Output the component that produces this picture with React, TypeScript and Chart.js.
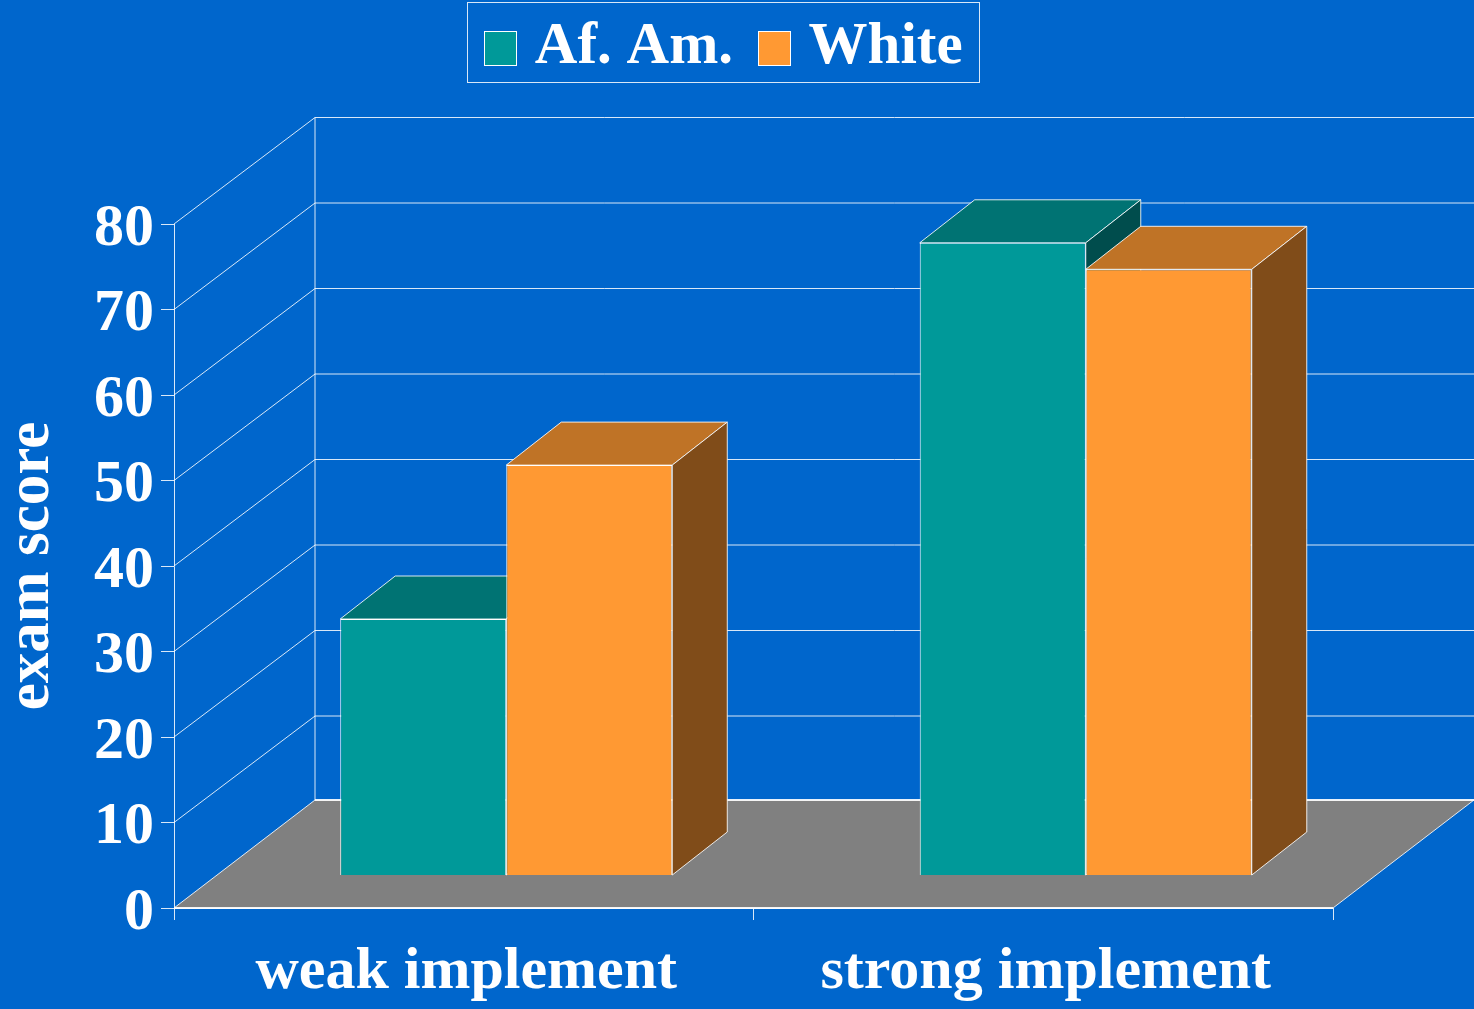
import React, { useEffect, useRef } from "react";
import { Chart, registerables } from "chart.js";

Chart.register(...registerables);

const categories = ["weak implement", "strong implement"];
const afAmValues = [30, 74];
const whiteValues = [48, 70.9];
const yTicks = [0, 10, 20, 30, 40, 50, 60, 70, 80];

const SERIF = '"Liberation Serif", serif';
const BG = "#0066cc";
const LINE = "rgba(255,255,255,0.85)";
const WALL = { dx: 141, dy: -106.5, floorDy: -108 };
const BAR_SHIFT = { dx: 42.5, dy: -32.5 };
const BAR_DEPTH = { dx: 55, dy: -43 };
const faces: Record<string, { top: string; side: string }> = {
  "Af. Am.": { top: "#007373", side: "#004d4d" },
  White: { top: "#bf7326", side: "#804c19" },
};

function poly(ctx: CanvasRenderingContext2D, pts: number[][], fill: string | null, stroke: string | null) {
  ctx.beginPath();
  pts.forEach((p, i) => (i ? ctx.lineTo(p[0], p[1]) : ctx.moveTo(p[0], p[1])));
  ctx.closePath();
  if (fill) {
    ctx.fillStyle = fill;
    ctx.fill();
  }
  if (stroke) {
    ctx.strokeStyle = stroke;
    ctx.lineWidth = 1;
    ctx.stroke();
  }
}

function seg(ctx: CanvasRenderingContext2D, x1: number, y1: number, x2: number, y2: number, w = 1) {
  ctx.beginPath();
  ctx.moveTo(x1, y1);
  ctx.lineTo(x2, y2);
  ctx.strokeStyle = LINE;
  ctx.lineWidth = w;
  ctx.stroke();
}

const scene3d = {
  id: "scene3d",
  beforeLayout(chart: any) {
    const legend = chart.legend;
    if (legend && !legend.__wrapped) {
      const fit = legend.fit;
      legend.fit = function () {
        fit.call(this);
        this.height = 224;
      };
      legend.__wrapped = true;
    }
  },
  afterLayout(chart: any) {
    const legend = chart.legend;
    legend.left = 0;
    legend.right = 1447;
    legend.top = -7;
  },
  beforeDraw(chart: any) {
    const { ctx, width, height } = chart;
    ctx.save();
    ctx.fillStyle = BG;
    ctx.fillRect(0, 0, width, height);
    ctx.restore();
  },
  beforeDatasetDraw() {
    return false;
  },
  beforeDatasetsDraw(chart: any) {
    const { ctx, chartArea: a, scales } = chart;
    const y0 = scales.y.getPixelForValue(0);
    const backX = a.left + WALL.dx;
    const floorY = y0 + WALL.floorDy;
    ctx.save();
    yTicks.forEach((v) => {
      if (v === 0) return;
      const y = scales.y.getPixelForValue(v);
      seg(ctx, a.left, y, backX, y + WALL.dy);
      seg(ctx, backX, y + WALL.dy, a.right + WALL.dx, y + WALL.dy);
    });
    seg(ctx, backX, a.top + WALL.dy, backX, floorY);
    poly(
      ctx,
      [
        [a.left, y0],
        [backX, floorY],
        [a.right + WALL.dx, floorY],
        [a.right, y0],
      ],
      "#808080",
      LINE
    );
    seg(ctx, backX, floorY, a.right + WALL.dx, floorY, 2);
    seg(ctx, a.left, y0, a.right, y0, 2);
    ctx.restore();
  },
  afterDatasetsDraw(chart: any) {
    const { ctx } = chart;
    chart.data.datasets.forEach((ds: any, i: number) => {
      const meta = chart.getDatasetMeta(i);
      const f = faces[ds.label];
      ctx.save();
      ctx.translate(BAR_SHIFT.dx, BAR_SHIFT.dy);
      meta.data.forEach((bar: any) => {
        const l = bar.x - bar.width / 2;
        const r = bar.x + bar.width / 2;
        const t = bar.y;
        const b = bar.base;
        const { dx, dy } = BAR_DEPTH;
        poly(ctx, [[l, t], [l + dx, t + dy], [r + dx, t + dy], [r, t]], f.top, LINE);
        poly(ctx, [[r, t], [r + dx, t + dy], [r + dx, b + dy], [r, b]], f.side, LINE);
      });
      meta.controller.draw();
      ctx.restore();
    });
  },
  afterDraw(chart: any) {
    const { ctx, legend } = chart;
    const boxes = legend.legendHitBoxes;
    if (!boxes || !boxes.length) return;
    ctx.save();
    const first = boxes[0];
    ctx.strokeStyle = LINE;
    ctx.lineWidth = 1;
    ctx.strokeRect(Math.round(first.left) - 16.5, 2.5, 512, 80);
    boxes.forEach((h: any, i: number) => {
      const ds = chart.data.datasets[i];
      const cy = h.top + h.height / 2 + 0.5;
      const x = Math.round(h.left) + 0.5;
      const y = Math.round(cy - 17) + 0.5;
      ctx.fillStyle = ds.backgroundColor;
      ctx.fillRect(x, y, 32, 34);
      ctx.strokeStyle = "#ffffff";
      ctx.strokeRect(x, y, 32, 34);
    });
    ctx.restore();
  },
};

export default function App() {
  const ref = useRef<HTMLCanvasElement>(null);
  useEffect(() => {
    document.body.style.margin = "0";
    document.body.style.background = BG;
    const chart = new Chart(ref.current as HTMLCanvasElement, {
      type: "bar",
      data: {
        labels: categories,
        datasets: [
          { label: "Af. Am.", data: afAmValues, backgroundColor: "#009999", borderColor: "#ffffff", borderWidth: 1 },
          { label: "White", data: whiteValues, backgroundColor: "#ff9933", borderColor: "#ffffff", borderWidth: 1 },
        ],
      },
      options: {
        responsive: false,
        animation: false,
        devicePixelRatio: 1,
        layout: { padding: { top: 0, right: 141, bottom: 0, left: 0 } },
        datasets: { bar: { categoryPercentage: 0.573, barPercentage: 1 } },
        plugins: {
          tooltip: { enabled: false },
          legend: {
            position: "top",
            labels: {
              boxWidth: 21,
              boxHeight: 33,
              padding: 25,
              color: "#ffffff",
              font: { family: SERIF, weight: "bold", size: 59, lineHeight: 1.2 },
              generateLabels(chart: any) {
                return chart.data.datasets.map((d: any, i: number) => ({
                  text: d.label,
                  fillStyle: "transparent",
                  strokeStyle: "transparent",
                  lineWidth: 0,
                  fontColor: "#ffffff",
                  hidden: false,
                  datasetIndex: i,
                }));
              },
            },
          },
        },
        scales: {
          x: {
            type: "category",
            afterFit(s: any) {
              s.height = 101;
            },
            grid: { offset: true, drawOnChartArea: false, drawTicks: true, tickLength: 12, color: LINE },
            border: { color: LINE },
            ticks: {
              color: "#ffffff",
              padding: 22,
              labelOffset: 2.5,
              maxRotation: 0,
              font: { family: SERIF, weight: "bold", size: 60, lineHeight: 1 },
            },
          },
          y: {
            type: "linear",
            min: 0,
            max: 80,
            afterFit(s: any) {
              s.width = 174;
            },
            afterBuildTicks(s: any) {
              s.ticks = yTicks.map((value) => ({ value }));
            },
            grid: { drawOnChartArea: false, drawTicks: true, tickLength: 13, color: LINE },
            border: { color: LINE },
            title: {
              display: true,
              text: "exam score",
              color: "#ffffff",
              padding: { top: 2, bottom: 0 },
              font: { family: SERIF, weight: "bold", size: 61, lineHeight: 1 },
            },
            ticks: {
              color: "#ffffff",
              padding: 7,
              labelOffset: 5,
              font: { family: SERIF, weight: "bold", size: 60, lineHeight: 1 },
            },
          },
        },
      } as any,
      plugins: [scene3d as any],
    });
    return () => chart.destroy();
  }, []);
  return <canvas ref={ref} width={1474} height={1009} style={{ display: "block", width: 1474, height: 1009 }} />;
}
